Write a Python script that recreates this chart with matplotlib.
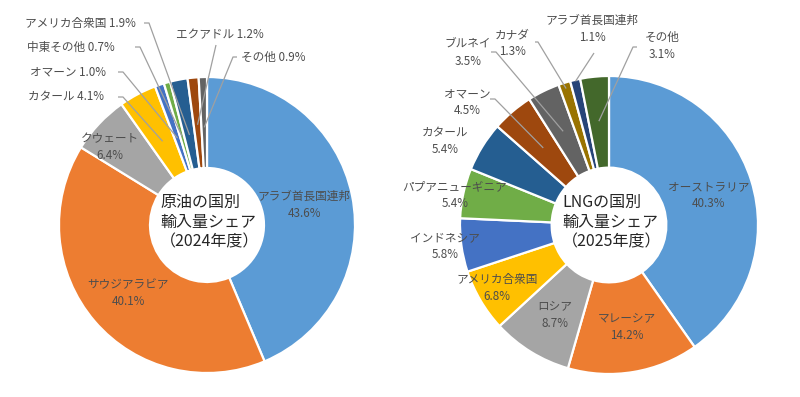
import numpy as np
import matplotlib
matplotlib.use('Agg')
import matplotlib.pyplot as plt

plt.rcParams['font.family'] = ['Noto Sans CJK JP', 'DejaVu Sans']

# ---------------- data ----------------
crude_countries = ['アラブ首長国連邦', 'サウジアラビア', 'クウェート', 'カタール', 'オマーン',
                   '中東その他', 'アメリカ合衆国', 'エクアドル', 'その他']
crude_shares = [43.6, 40.1, 6.4, 4.1, 1.0, 0.7, 1.9, 1.2, 0.9]
crude_title = '原油の国別\n輸入量シェア\n（2024年度）'

lng_countries = ['オーストラリア', 'マレーシア', 'ロシア', 'アメリカ合衆国', 'インドネシア',
                 'パプアニューギニア', 'カタール', 'オマーン', 'ブルネイ', 'カナダ',
                 'アラブ首長国連邦', 'その他']
lng_shares = [40.3, 14.2, 8.7, 6.8, 5.8, 5.4, 5.4, 4.5, 3.5, 1.3, 1.1, 3.1]
lng_title = 'LNGの国別\n輸入量シェア\n（2025年度）'

crude_colors = ['#5B9BD5', '#ED7D31', '#A5A5A5', '#FFC000', '#4472C4', '#70AD47',
                '#255E91', '#9E480E', '#636363']
lng_colors = ['#5B9BD5', '#ED7D31', '#A5A5A5', '#FFC000', '#4472C4', '#70AD47',
              '#255E91', '#9E480E', '#636363', '#997300', '#264478', '#43682B']

# ---------------- layout (pixel coords, y down) ----------------
W, H = 800, 397
crude_center = (207, 225)
crude_radius = 148
lng_center = (609, 225)
lng_radius = 149
hole_frac = 0.385

# label layout: (x, y, ha, separator, leader) ; leader = (start_x, start_y, stub_dx, radius_frac)
crude_layout = [
    (304, 205, 'center', '\n', None),
    (128, 293, 'center', '\n', None),
    (110, 147, 'center', '\n', None),
    (28, 97, 'left', ' ', (118, 97, 5, 0.64)),
    (30, 72, 'left', ' ', (118, 72, 5, 0.62)),
    (27, 47, 'left', ' ', (135, 47, 5, 0.62)),
    (25, 23, 'left', ' ', (144, 23, 5, 0.62)),
    (176, 35, 'left', ' ', (216, 45, 0, 0.68)),
    (241, 57, 'left', ' ', (237, 57, -4, 0.66)),
]
lng_layout = [
    (709, 195, 'center', '\n', None),
    (627, 327, 'center', '\n', None),
    (555, 315, 'center', '\n', None),
    (497, 288, 'center', '\n', None),
    (445, 246, 'center', '\n', None),
    (455, 195, 'center', '\n', None),
    (445, 141, 'center', '\n', None),
    (467, 102, 'center', '\n', (490, 99, 5, 0.68)),
    (468, 53, 'center', '\n', (491, 52, 5, 0.70)),
    (512, 43, 'center', '\n', (535, 42, 3, 0.96)),
    (592, 29, 'center', '\n', (594, 53, 0, 0.99)),
    (662, 46, 'center', '\n', (637, 47, -4, 0.70)),
]

fig = plt.figure(figsize=(W / 100, H / 100), dpi=100)
ax = fig.add_axes([0, 0, 1, 1])

label_color = '#4d4d4d'
leader_color = '#a0a0a0'


def draw_donut(names, shares, colors, center, radius, layout, title):
    cx, cy = center
    ax.pie(shares, colors=colors, startangle=90, counterclock=False,
           center=(cx, H - cy), radius=radius, frame=False,
           wedgeprops=dict(width=radius * (1 - hole_frac), edgecolor='white', linewidth=1.6))
    total = float(sum(shares))
    cum = np.concatenate([[0], np.cumsum(shares)[:-1]])
    for name, v, c0, spec in zip(names, shares, cum, layout):
        x, y, ha, sep, leader = spec
        txt = f'{name}{sep}{v:.1f}%'
        ax.text(x, H - y, txt, ha=ha, va='center', fontsize=8.4, color=label_color,
                linespacing=1.4, zorder=5)
        if leader is not None:
            sx, sy, stub, rf = leader
            theta = np.deg2rad(90 - 360 * (c0 + v / 2) / total)
            tx = cx + rf * radius * np.cos(theta)
            ty = (H - cy) + rf * radius * np.sin(theta)
            ax.plot([sx, sx + stub, tx], [H - sy, H - sy, ty], color=leader_color,
                    lw=0.9, zorder=4, solid_capstyle='butt')
    ax.text(cx + 3, H - cy + 3, title, ha='center', va='center', fontsize=11.5,
            color='#262626', multialignment='left', linespacing=1.2, zorder=6)


draw_donut(crude_countries, crude_shares, crude_colors, crude_center, crude_radius,
           crude_layout, crude_title)
draw_donut(lng_countries, lng_shares, lng_colors, lng_center, lng_radius,
           lng_layout, lng_title)

ax.set_xlim(0, W)
ax.set_ylim(0, H)
ax.set_aspect('equal')
ax.axis('off')

fig.savefig('out.png', dpi=100, facecolor='white')
